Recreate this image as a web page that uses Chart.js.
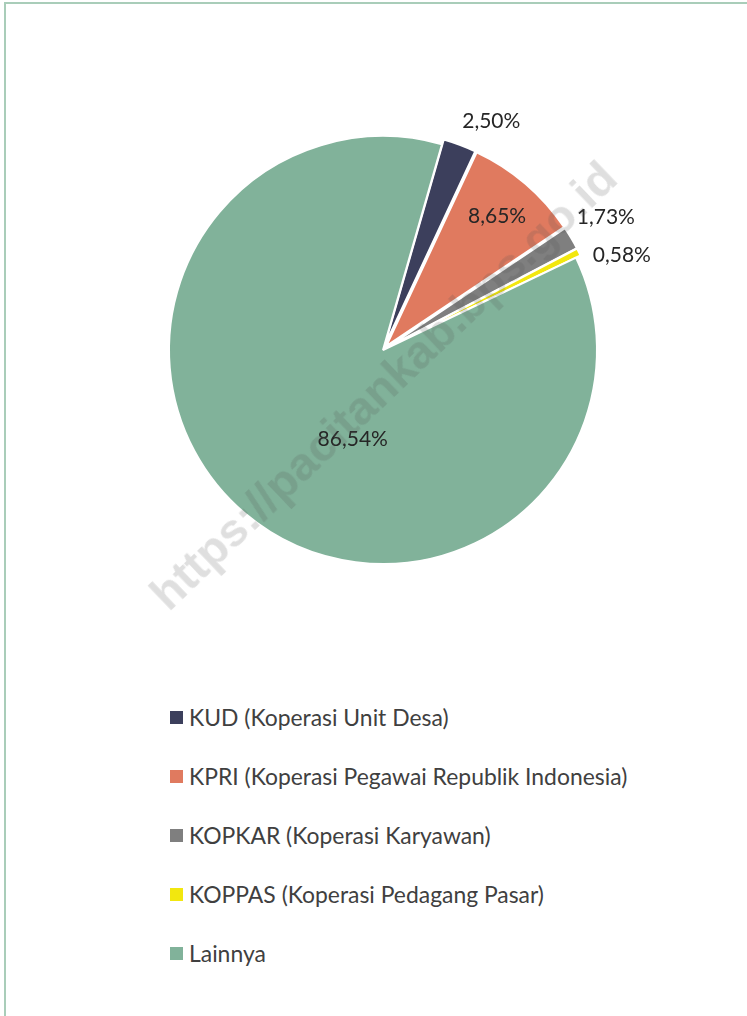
<!DOCTYPE html>
<html>
<head>
<meta charset="utf-8">
<script src="https://cdn.jsdelivr.net/npm/chart.js@4/dist/chart.umd.min.js"></script>
<style>
  html, body { margin: 0; padding: 0; background: #fff; }
  body { width: 747px; height: 1016px; position: relative; overflow: hidden; font-family: Lato, "Noto Sans", sans-serif; }
  #frame { position: absolute; left: 4px; top: 2px; width: 800px; height: 1100px; border-left: 2px solid #a9cdb9; border-top: 2px solid #a9cdb9; }
  #wrap { position: absolute; left: 83px; top: 50px; width: 600px; height: 600px; }
  #legend { position: absolute; left: 170px; top: 700px; margin: 0; padding: 0; list-style: none; }
  #legend li { height: 58.9px; display: flex; align-items: flex-start; font-size: 22.9px; color: #404040; line-height: 34px; white-space: nowrap; }
  #legend span.box { display: inline-block; width: 13px; height: 13px; margin: 11px 6px 0 0; flex: none; }
  #watermark { position: absolute; left: 383px; top: 385px; transform: translate(-50%, -50%) rotate(-43.7deg); font: bold 47px "Liberation Sans", Arial, sans-serif; color: rgba(80, 80, 80, 0.18); white-space: nowrap; pointer-events: none; }
</style>
</head>
<body>
<div id="frame"></div>
<div id="wrap"><canvas id="grafico"></canvas></div>
<ul id="legend"></ul>
<div id="watermark">https://pacitankab.bps.go.id</div>
<script>
// dados do gráfico
const kategori = [
  "KUD (Koperasi Unit Desa)",
  "KPRI (Koperasi Pegawai Republik Indonesia)",
  "KOPKAR (Koperasi Karyawan)",
  "KOPPAS (Koperasi Pedagang Pasar)",
  "Lainnya"
];
const persen = [2.50, 8.65, 1.73, 0.58, 86.54];
const warna = ["#3c3f5c", "#e07a5f", "#7f7f7f", "#f2e70f", "#81b29a"];

// posição dos rótulos (fora / dentro) e deslocamento da fatia
const explode = [5, 5, 5, 5, 0];
const rotulo = [
  { out: true, dx: -1, dy: -14 },
  { out: false, r: 0.82, da: 0 },
  { out: true, dx: -3, dy: -16 },
  { out: true, dx: 5, dy: 8 },
  { out: false, r: 0.44, da: -21.5 }
];

const fmt = v => v.toFixed(2).replace(".", ",") + "%";

// desenha cada fatia com seu deslocamento
const explodePlugin = {
  id: "explode",
  beforeDatasetDraw(chart, args) {
    const ctx = chart.ctx;
    args.meta.data.forEach((arc, i) => {
      const mid = (arc.startAngle + arc.endAngle) / 2;
      ctx.save();
      ctx.translate(Math.cos(mid) * explode[i], Math.sin(mid) * explode[i]);
      arc.draw(ctx);
      ctx.restore();
    });
    return false;
  }
};

// rótulos de porcentagem
const labelPlugin = {
  id: "rotulos",
  afterDatasetsDraw(chart) {
    const ctx = chart.ctx;
    const meta = chart.getDatasetMeta(0);
    ctx.save();
    ctx.font = "21px Lato, 'Noto Sans', sans-serif";
    ctx.fillStyle = "#262626";
    meta.data.forEach((arc, i) => {
      const cfg = rotulo[i];
      const mid = (arc.startAngle + arc.endAngle) / 2;
      const txt = fmt(persen[i]);
      if (cfg.out) {
        const r = arc.outerRadius + explode[i] + 10;
        const x = arc.x + Math.cos(mid) * r + cfg.dx;
        const y = arc.y + Math.sin(mid) * r + cfg.dy;
        ctx.textAlign = "left";
        ctx.textBaseline = "middle";
        ctx.fillText(txt, x, y);
      } else {
        const a = mid + cfg.da * Math.PI / 180;
        const r = arc.outerRadius * cfg.r;
        ctx.textAlign = "center";
        ctx.textBaseline = "middle";
        ctx.fillText(txt, arc.x + Math.cos(a) * r, arc.y + Math.sin(a) * r);
      }
    });
    ctx.restore();
  }
};

const ctx = document.getElementById("grafico").getContext("2d");
const chart = new Chart(ctx, {
  type: "pie",
  data: {
    labels: kategori,
    datasets: [{
      data: persen,
      backgroundColor: warna,
      borderColor: "#ffffff",
      borderWidth: 2
    }]
  },
  options: {
    responsive: true,
    maintainAspectRatio: false,
    animation: false,
    rotation: 16,
    radius: 214,
    layout: { padding: 0 },
    plugins: {
      legend: { display: false },
      tooltip: { enabled: false }
    }
  },
  plugins: [explodePlugin, labelPlugin]
});

// legenda
const ul = document.getElementById("legend");
chart.data.labels.forEach((lab, i) => {
  const li = document.createElement("li");
  const box = document.createElement("span");
  box.className = "box";
  box.style.background = warna[i];
  li.appendChild(box);
  li.appendChild(document.createTextNode(lab));
  ul.appendChild(li);
});
</script>
</body>
</html>
